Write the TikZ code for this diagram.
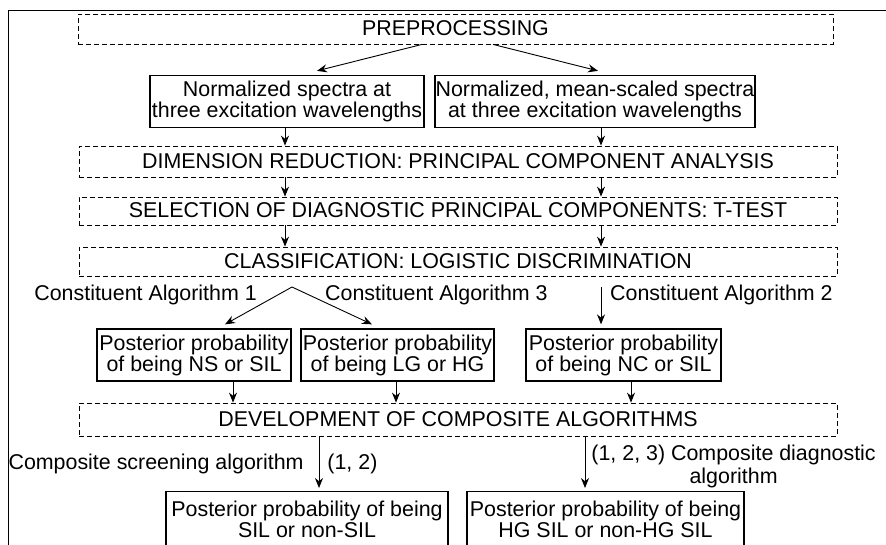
\documentclass[tikz,border=0pt]{standalone}
\usepackage{fontspec}
\setmainfont{Liberation Sans}
\usetikzlibrary{positioning,arrows.meta}

\begin{document}
\begin{tikzpicture}[
  x=1pt,y=-1pt,
  font=\fontsize{21.4}{21}\selectfont,
  stage/.style={draw,dashed,dash pattern=on 5pt off 3pt,line width=0.8pt,minimum width=758pt,minimum height=30pt,inner sep=0pt,text depth=1pt},
  res/.style={draw,line width=1.3pt,align=center,inner sep=0pt,minimum height=52pt,execute at begin node={\rule{0pt}{24pt}}},
  lbl/.style={inner sep=0pt,align=center},
  arr/.style={-{Stealth[length=10pt,width=8pt]},line width=0.9pt}
]
\useasboundingbox (0,0) rectangle (886,544);
\clip (0,0) rectangle (886,544);

% frame round the figure
\draw[line width=0.9pt] (8,600) |- (900,10);

% stages and results
\node[stage,minimum width=755pt] (pre) at (455.5,29) {PREPROCESSING};
\node[res,minimum width=274pt] (n1) at (287,101.5) {Normalized spectra at\\three excitation wavelengths};
\node[res,minimum width=320pt] (n2) at (595,101.5) {Normalized, mean-scaled spectra\\at three excitation wavelengths};
\node[stage,minimum height=31pt] (dim) at (458,161.5) {DIMENSION REDUCTION: PRINCIPAL COMPONENT ANALYSIS};
\node[stage,minimum height=28pt] (sel) at (458,211) {SELECTION OF DIAGNOSTIC PRINCIPAL COMPONENTS: T-TEST};
\node[stage,minimum height=29pt] (cls) at (458,261.5) {CLASSIFICATION: LOGISTIC DISCRIMINATION};
\node[res,minimum width=194pt] (pa) at (194,355) {Posterior probability\\of being NS or SIL};
\node[res,minimum width=193pt] (pb) at (397.5,355) {Posterior probability\\of being LG or HG};
\node[res,minimum width=195pt] (pc) at (623.5,355) {Posterior probability\\of being NC or SIL};
\node[stage,minimum height=33pt] (dev) at (458,419.5) {DEVELOPMENT OF COMPOSITE ALGORITHMS};
\node[res,minimum width=282pt,minimum height=56pt,anchor=north] (fa) at (307,491) {Posterior probability of being\\SIL or non-SIL};
\node[res,minimum width=277pt,minimum height=56pt,anchor=north] (fb) at (605.5,491) {Posterior probability of being\\HG SIL or non-HG SIL};

% algorithm labels
\node[lbl,anchor=base east] (ca1) at (257,300) {Constituent Algorithm 1};
\node[lbl,anchor=base west] (ca3) at (325,300) {Constituent Algorithm 3};
\node[lbl,anchor=base west] (ca2) at (610,300) {Constituent Algorithm 2};

\coordinate (cl) at (285,0);
\coordinate (cr) at (601,0);
\coordinate (br) at (292,287);
\coordinate (bc) at (601,287);

% arrows
\draw[arr] ([xshift=-33.5pt]pre.south) -- ([xshift=30pt,yshift=4pt]n1.north);
\draw[arr] ([xshift=37.5pt]pre.south) -- ([xshift=3pt,yshift=4pt]n2.north);
\draw[arr] (n1.south -| cl) -- (dim.north -| cl);
\draw[arr] (n2.south -| cr) -- (dim.north -| cr);
\foreach \c in {cl,cr} {
  \draw[arr] (dim.south -| \c) -- (sel.north -| \c);
  \draw[arr] (sel.south -| \c) -- (cls.north -| \c);
}
\draw[arr] (br) -- ([xshift=31pt,yshift=4pt]pa.north);
\draw[arr] (br) -- ([xshift=-25.5pt,yshift=4pt]pb.north);
\draw[arr] (bc) -- ([xshift=-22.5pt,yshift=4pt]pc.north);
\foreach \b/\x in {pa/233,pb/396,pc/631}
  \draw[arr] (\b.south -| \x,0) -- (dev.north -| \x,0);
\draw[arr,shorten >=3pt] (dev.south -| 319,0) -- (fa.north -| 319,0)
  node[lbl,midway,left=15pt] (csl) {Composite screening algorithm}
  node[lbl,midway,right=8pt] (csr) {(1, 2)};
\draw[arr,shorten >=3pt] (dev.south -| 585,0) -- (fb.north -| 585,0)
  node[lbl,pos=0,anchor=north west,xshift=6pt,yshift=-8pt] (cdl) {(1, 2, 3) Composite diagnostic\\[2pt]algorithm};
\end{tikzpicture}
\end{document}
